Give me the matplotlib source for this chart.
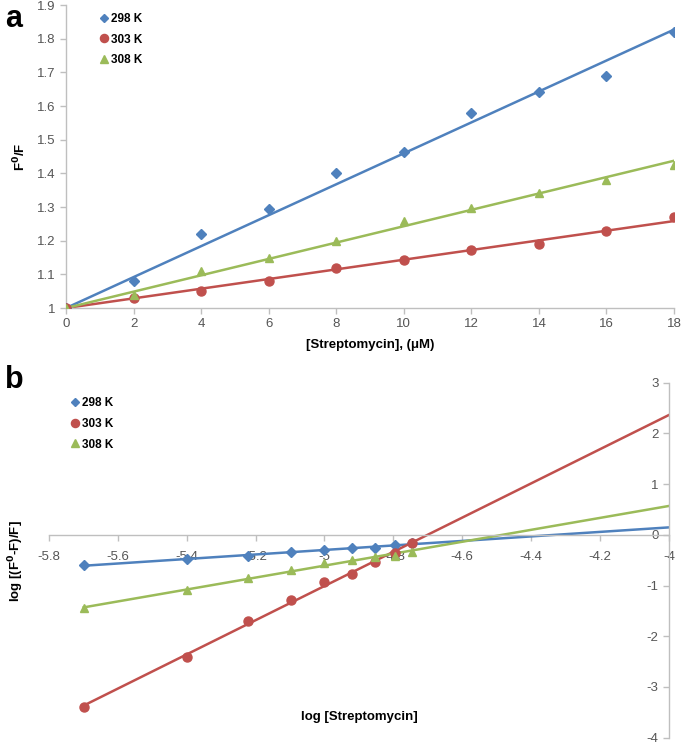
import numpy as np
import matplotlib
matplotlib.use('Agg')
import matplotlib.pyplot as plt
from matplotlib.lines import Line2D

plt.rcParams['font.family'] = ['Liberation Sans', 'DejaVu Sans']
plt.rcParams['axes.unicode_minus'] = False

# panel a: Stern-Volmer data
conc = [0, 2, 4, 6, 8, 10, 12, 14, 16, 18]
f_298 = [1.00, 1.08, 1.22, 1.295, 1.40, 1.464, 1.579, 1.641, 1.69, 1.821]
f_303 = [1.00, 1.03, 1.05, 1.08, 1.12, 1.143, 1.171, 1.19, 1.229, 1.27]
f_308 = [1.00, 1.04, 1.11, 1.15, 1.20, 1.259, 1.297, 1.341, 1.381, 1.426]

# panel b: double log data
log_conc = [-5.699, -5.398, -5.222, -5.097, -5.0, -4.921, -4.854, -4.796, -4.745]
lg_298 = [-0.596, -0.484, -0.41, -0.345, -0.30, -0.254, -0.254, -0.20, -0.17]
lg_303 = [-3.39, -2.40, -1.70, -1.29, -0.925, -0.78, -0.53, -0.365, -0.17]
lg_308 = [-1.45, -1.09, -0.86, -0.69, -0.56, -0.50, -0.43, -0.42, -0.33]

labels = ['298 K', '303 K', '308 K']
colors = ['#4F81BD', '#C0504D', '#9BBB59']
markers = ['D', 'o', '^']
msizes = [5, 6.5, 6]

axis_col = '#BFBFBF'
tick_col = '#555555'

fig = plt.figure(figsize=(6.85, 7.48), dpi=100)


def style(ax):
    for s in ['top', 'right']:
        ax.spines[s].set_visible(False)
    for s in ['left', 'bottom']:
        ax.spines[s].set_color(axis_col)
        ax.spines[s].set_linewidth(1.0)
    ax.tick_params(colors=axis_col, labelcolor=tick_col, labelsize=9.5,
                   length=4, width=1.0, direction='out')


# ---- panel a ----
ax1 = fig.add_axes([0.0964, 0.5882, 0.8876, 0.405])
style(ax1)
xa = np.array(conc)
for ys, c, m, ms, lab in zip([f_298, f_303, f_308], colors, markers, msizes, labels):
    ys = np.array(ys)
    # trendline with intercept fixed at 1
    k = np.sum(xa * (ys - 1)) / np.sum(xa ** 2)
    xx = np.array([0, 18])
    ax1.plot(xx, 1 + k * xx, color=c, lw=1.8, zorder=2)
    ax1.plot(xa, ys, ls='none', marker=m, color=c, ms=ms, zorder=3)
ax1.set_xlim(0, 18)
ax1.set_ylim(1, 1.9)
ax1.set_xticks(range(0, 19, 2))
ax1.set_yticks(np.arange(1, 1.95, 0.1))
ax1.yaxis.set_major_formatter(plt.FuncFormatter(lambda v, p: f'{v:g}'))
ax1.set_xlabel('[Streptomycin], (μM)', fontweight='bold', fontsize=9.5, labelpad=6)
ax1.set_ylabel(r'F$^{\mathbf{0}}$/F', fontweight='bold', fontsize=9.5, labelpad=6)

handles = [Line2D([], [], ls='none', marker=m, color=c, ms=ms * 0.9)
           for c, m, ms in zip(colors, markers, msizes)]
ax1.legend(handles, labels, loc='upper left', bbox_to_anchor=(0.035, 1.01),
           frameon=False, handletextpad=0.1, handlelength=1.0,
           labelspacing=0.75, prop={'weight': 'bold', 'size': 8.5})

# ---- panel b ----
ax2 = fig.add_axes([0.0715, 0.0138, 0.905, 0.4746])
style(ax2)
ax2.set_axisbelow(True)
ax2.spines['left'].set_position(('data', -4))
ax2.spines['bottom'].set_position(('data', 0))
xb = np.array(log_conc)
for ys, c, m, ms in zip([lg_298, lg_303, lg_308], colors, markers, msizes):
    ys = np.array(ys)
    k, b = np.polyfit(xb, ys, 1)
    xx = np.array([xb[0], -4])
    ax2.plot(xx, k * xx + b, color=c, lw=1.8, zorder=2)
    ax2.plot(xb, ys, ls='none', marker=m, color=c, ms=ms, zorder=3)
ax2.set_xlim(-5.8, -4)
ax2.set_ylim(-4, 3)
ax2.set_xticks(np.arange(-5.8, -3.95, 0.2))
ax2.set_yticks(range(-4, 4))
ax2.xaxis.set_major_formatter(plt.FuncFormatter(lambda v, p: f'{v:.1f}'.rstrip('0').rstrip('.')))
ax2.tick_params(axis='x', pad=8)
ax2.text(-4.9, -3.6, 'log [Streptomycin]', fontweight='bold', fontsize=9.5,
         ha='center', va='center')
fig.text(0.024, 0.25, r'log [(F$^{\mathbf{0}}$-F)/F]', fontweight='bold',
         fontsize=9.5, rotation=90, ha='center', va='center')
ax2.legend(handles, labels, loc='upper left', bbox_to_anchor=(0.015, 0.99),
           frameon=False, handletextpad=0.1, handlelength=1.0,
           labelspacing=0.75, prop={'weight': 'bold', 'size': 8.5})

fig.text(0.008, 0.995, 'a', fontsize=22, fontweight='bold', va='top')
fig.text(0.008, 0.512, 'b', fontsize=22, fontweight='bold', va='top')

fig.savefig('out.png', dpi=100)
